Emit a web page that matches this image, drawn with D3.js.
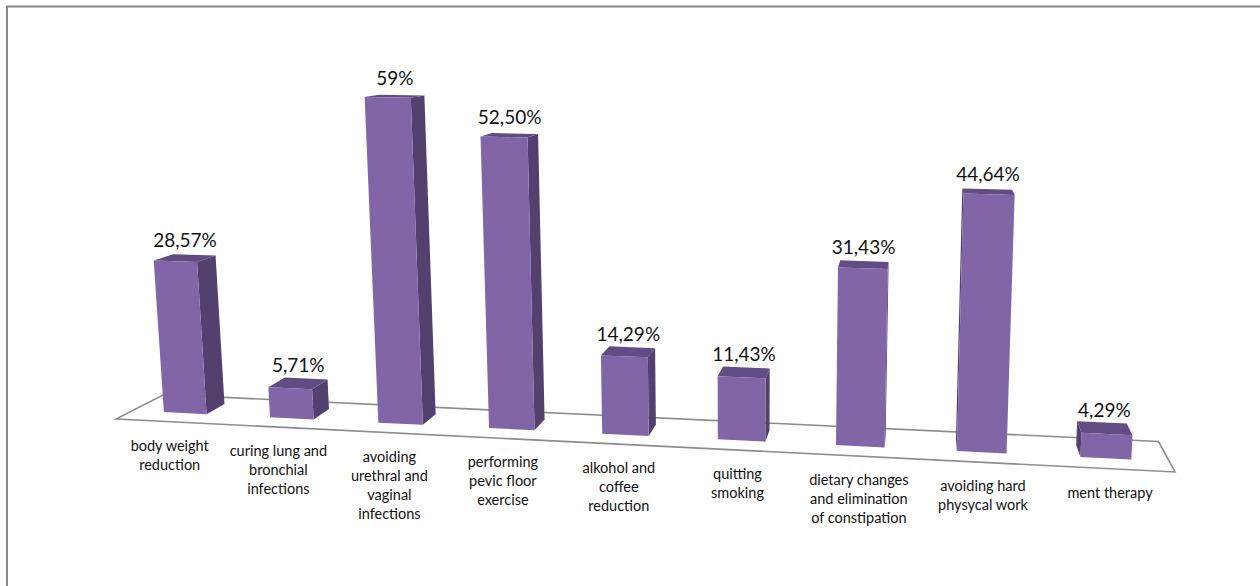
<!DOCTYPE html>
<html>
<head>
<meta charset="utf-8">
<title>3D columns</title>
<style>
  body { margin: 0; background: #fff; }
  svg { display: block; }
  .frame { fill: none; stroke: #878787; stroke-width: 2; }
  .floor { fill: none; stroke: #8c8c8c; stroke-width: 1.6; stroke-linejoin: miter; }
  .value { font-family: Lato, sans-serif; font-size: 19px; fill: #111; text-anchor: middle; }
  .cat { font-family: Lato, sans-serif; font-size: 14.5px; fill: #111; text-anchor: middle; }
</style>
</head>
<body>
<div id="chart"></div>
<script src="https://cdn.jsdelivr.net/npm/d3@7"></script>
<script>
var categories = [
  'body weight reduction',
  'curing lung and bronchial infections',
  'avoiding urethral and vaginal infections',
  'performing pevic floor exercise',
  'alkohol and coffee reduction',
  'quitting smoking',
  'dietary changes and elimination of constipation',
  'avoiding hard physycal work',
  'ment therapy'
];
var categoryLines = [
  ['body weight', 'reduction'],
  ['curing lung and', 'bronchial', 'infections'],
  ['avoiding', 'urethral and', 'vaginal', 'infections'],
  ['performing', 'pevic floor', 'exercise'],
  ['alkohol and', 'coffee', 'reduction'],
  ['quitting', 'smoking'],
  ['dietary changes', 'and elimination', 'of constipation'],
  ['avoiding hard', 'physycal work'],
  ['ment therapy']
];
var values = [28.57, 5.71, 59, 52.5, 14.29, 11.43, 31.43, 44.64, 4.29];
var valueLabels = ['28,57%', '5,71%', '59%', '52,50%', '14,29%', '11,43%', '31,43%', '44,64%', '4,29%'];

var width = 1260, height = 586;

// perspective camera: image of the floor origin plus the three vanishing points
var origin = [116, 419];
var vpX = [-9884, -81], vpY = [740, 9000], vpZ = [923, 7];
var kx = -0.09576, ky = -0.03706, kz = 0.06324;

// u: along categories (0..1), h: height (world), v: depth (0 front .. 1 back)
function project(u, h, v) {
  var w = 1 + kx * u + ky * h + kz * v;
  var x = origin[0] + kx * u * vpX[0] + ky * h * vpY[0] + kz * v * vpZ[0];
  var y = origin[1] + kx * u * vpX[1] + ky * h * vpY[1] + kz * v * vpZ[1];
  return [x / w, y / w];
}

var x = d3.scaleBand()
  .domain(categories)
  .range([0, 1])
  .paddingInner(0.595)
  .paddingOuter(0.3);

var y = d3.scaleLinear()
  .domain([0, 60])
  .range([0, 1]);

var depth = [0.33, 0.74];

var svg = d3.select('#chart')
  .append('svg')
  .attr('width', width)
  .attr('height', height);

svg.append('rect')
  .attr('class', 'frame')
  .attr('x', 7).attr('y', 6.5)
  .attr('width', width + 20).attr('height', height + 20);

var line = d3.line();

// floor
svg.append('path')
  .attr('class', 'floor')
  .attr('d', line([project(0, 0, 0), project(1, 0, 0), project(1, 0, 1), project(0, 0, 1)]) + 'Z');

var data = categories.map(function(c, i) {
  return { name: c, value: values[i], label: valueLabels[i], lines: categoryLines[i] };
});

var bars = svg.selectAll('.bar')
  .data(data)
  .enter()
  .append('g')
  .attr('class', 'bar');

bars.each(function(d) {
  var g = d3.select(this);
  var u0 = x(d.name), u1 = u0 + x.bandwidth();
  var h = y(d.value);
  var v0 = depth[0], v1 = depth[1];

  var fbl = project(u0, 0, v0), fbr = project(u1, 0, v0),
      ftl = project(u0, h, v0), ftr = project(u1, h, v0),
      bbl = project(u0, 0, v1), bbr = project(u1, 0, v1),
      btl = project(u0, h, v1), btr = project(u1, h, v1);

  if (bbr[0] > fbr[0]) {
    g.append('path').attr('d', line([fbr, bbr, btr, ftr]) + 'Z').attr('fill', '#53406f');
  }
  if (bbl[0] < fbl[0]) {
    g.append('path').attr('d', line([fbl, bbl, btl, ftl]) + 'Z').attr('fill', '#53406f');
  }
  g.append('path').attr('d', line([ftl, ftr, btr, btl]) + 'Z').attr('fill', '#614c83');
  g.append('path').attr('d', line([fbl, fbr, ftr, ftl]) + 'Z').attr('fill', '#8165a6');

  // label sits above the middle of the top face
  var top = project((u0 + u1) / 2, h, (v0 + v1) / 2);
  g.append('text')
    .attr('class', 'value')
    .attr('x', top[0])
    .attr('y', top[1] - 11)
    .text(d.label);
});

// category labels under the front edge of the floor
var labels = svg.selectAll('.cat')
  .data(data)
  .enter()
  .append('text')
  .attr('class', 'cat')
  .each(function(d) {
    var p = project(x(d.name) + x.bandwidth() / 2, 0, 0);
    d3.select(this).selectAll('tspan')
      .data(d.lines)
      .enter()
      .append('tspan')
      .attr('x', p[0])
      .attr('y', function(t, j) { return p[1] + 29 + j * 19; })
      .text(function(t) { return t; });
  });
</script>
</body>
</html>
